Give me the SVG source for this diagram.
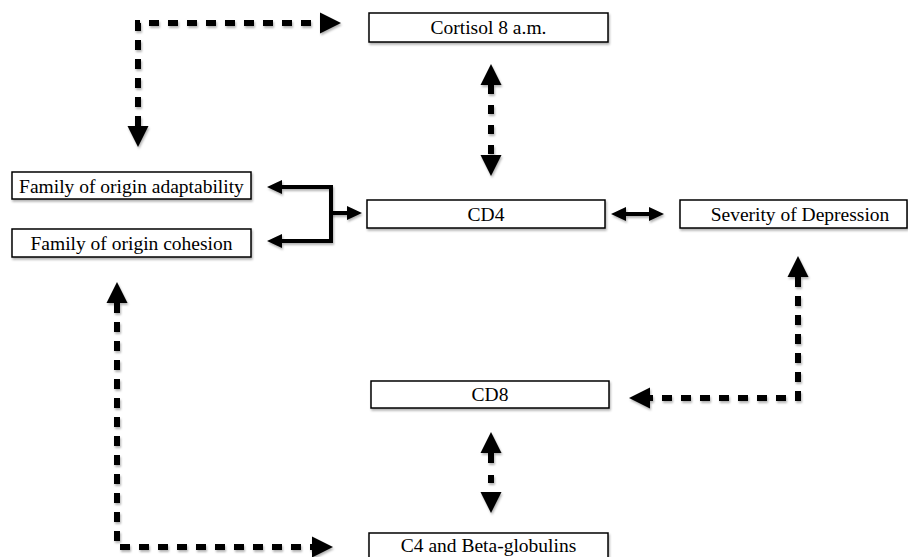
<svg xmlns="http://www.w3.org/2000/svg" width="908" height="557" viewBox="0 0 908 557">
  <defs>
    <filter id="sh" filterUnits="userSpaceOnUse" x="0" y="0" width="908" height="557">
      <feDropShadow dx="1" dy="2" stdDeviation="1.2" flood-color="#000" flood-opacity="0.3"/>
    </filter>
    <marker id="big" markerUnits="userSpaceOnUse" markerWidth="22" markerHeight="22" refX="0" refY="10.5" orient="auto-start-reverse" overflow="visible">
      <path d="M0,0 L21,10.5 L0,21 z" fill="#000"/>
    </marker>
    <marker id="small" markerUnits="userSpaceOnUse" markerWidth="16" markerHeight="15" refX="0" refY="7" orient="auto-start-reverse" overflow="visible">
      <path d="M0,0 L15,7 L0,14 z" fill="#000"/>
    </marker>
  </defs>
  <style>
    .box { fill: #fff; stroke: #000; stroke-width: 1.5; filter: url(#sh); }
    .lbl { font-family: "Liberation Serif", "Times New Roman", serif; font-size: 19.5px; fill: #000; text-anchor: middle; }
    .dash { fill: none; stroke: #000; stroke-width: 6; stroke-dasharray: 10 9; marker-start: url(#big); marker-end: url(#big); filter: url(#sh); }
    .solid { fill: none; stroke: #000; stroke-width: 4; filter: url(#sh); }
  </style>
  <rect width="908" height="557" fill="#fff"/>

  <g id="connectors">
    <path class="dash" d="M138,126 V23 H320" style="stroke-dasharray:10 9"/>
    <path class="dash" d="M491,85 V155" style="stroke-dasharray:9 11"/>
    <path class="solid" d="M282,187 H331 V241 H282" marker-start="url(#small)" marker-end="url(#small)"/>
    <path class="solid" d="M331,213 H347" marker-end="url(#small)"/>
    <path class="solid" d="M626,214 H649" marker-start="url(#small)" marker-end="url(#small)"/>
    <path class="dash" d="M798,277 V398 H650"/>
    <path class="dash" d="M491,453 V492" style="stroke-dasharray:10 12 8 20"/>
    <path class="dash" d="M117,303 V547 H312"/>
  </g>

  <g id="cortisol">
    <rect class="box" x="369" y="13" width="239" height="29"/>
    <text class="lbl" x="488.5" y="34">Cortisol 8 a.m.</text>
  </g>
  <g id="cd4">
    <rect class="box" x="367" y="200" width="238" height="28"/>
    <text class="lbl" x="486" y="220.5">CD4</text>
  </g>
  <g id="severity">
    <rect class="box" x="680" y="200" width="227" height="28"/>
    <text class="lbl" x="800" y="220.5">Severity of Depression</text>
  </g>
  <g id="family-adaptability">
    <rect class="box" x="12" y="172" width="239" height="27"/>
    <text class="lbl" x="131.5" y="192.5">Family of origin adaptability</text>
  </g>
  <g id="family-cohesion">
    <rect class="box" x="12" y="229" width="239" height="28"/>
    <text class="lbl" x="131.5" y="250">Family of origin cohesion</text>
  </g>
  <g id="cd8">
    <rect class="box" x="371" y="381" width="238" height="27"/>
    <text class="lbl" x="490" y="401">CD8</text>
  </g>
  <g id="c4">
    <rect class="box" x="369" y="533" width="239" height="30"/>
    <text class="lbl" x="488.5" y="552">C4 and Beta-globulins</text>
  </g>
</svg>
